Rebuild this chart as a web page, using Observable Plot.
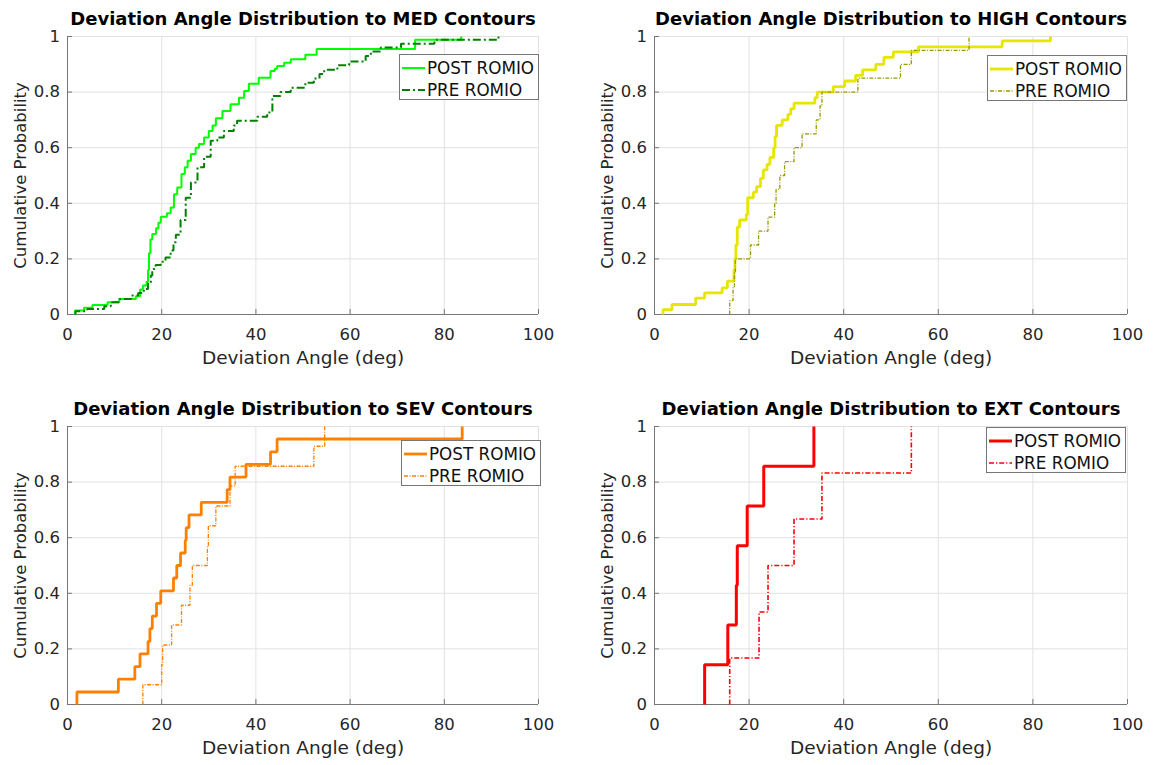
<!DOCTYPE html>
<html>
<head>
<meta charset="utf-8">
<script src="https://cdn.jsdelivr.net/npm/d3@7"></script>
<script src="https://cdn.jsdelivr.net/npm/@observablehq/plot@0.6"></script>
<style>
  html, body { margin: 0; padding: 0; background: #fff; }
  #wrap { position: relative; width: 1153px; height: 765px; background: #fff; overflow: hidden;
          font-family: "DejaVu Sans", sans-serif; }
  .panel { position: absolute; }
  .panel svg { max-width: none !important; }
  .legend { position: absolute; background: #fff; border: 1px solid #767676; box-sizing: border-box; }
  .legend .row { position: absolute; left: 0; height: 22px; display: flex; align-items: center; white-space: nowrap; }
  .legend .row svg { display: block; }
  .legend .row span { font-size: 16.8px; color: #111; margin-left: 1px; }
</style>
</head>
<body>
<div id="wrap"></div>
<script>
// ---------- data ----------
const xTicks = [0, 20, 40, 60, 80, 100];
const yTicks = [0, 0.2, 0.4, 0.6, 0.8, 1];
const contours = ["MED", "HIGH", "SEV", "EXT"];
const seriesNames = ["POST ROMIO", "PRE ROMIO"];
const xLabel = "Deviation Angle (deg)";
const yLabel = "Cumulative Probability";

// MED
const MED_POST_X = [1.6, 3.5, 5.3, 8.5, 11.0, 14.5, 15.4, 16.0, 16.8, 17.1, 17.3, 17.6, 18.0, 18.8, 19.3, 19.8, 21.1, 21.9, 22.6, 23.3, 24.2, 24.9, 25.5, 26.2, 27.2, 27.9, 29.0, 30.0, 30.8, 31.5, 32.9, 34.6, 36.4, 37.5, 38.5, 40.6, 43.1, 44.0, 44.5, 46.0, 47.4, 50.5, 52.9, 73.8, 83.6];
const MED_POST_Y = [0.014, 0.024, 0.034, 0.044, 0.056, 0.066, 0.09, 0.104, 0.118, 0.16, 0.22, 0.27, 0.29, 0.31, 0.33, 0.352, 0.364, 0.385, 0.433, 0.457, 0.505, 0.53, 0.553, 0.577, 0.60, 0.613, 0.637, 0.66, 0.68, 0.706, 0.732, 0.756, 0.78, 0.804, 0.83, 0.852, 0.876, 0.884, 0.894, 0.906, 0.918, 0.934, 0.955, 0.988, 1];
const MED_PRE_X = [1.7, 4.2, 7.8, 9.2, 11.0, 13.5, 15.0, 16.2, 17.1, 17.7, 18.0, 18.7, 19.8, 20.8, 21.9, 22.5, 23.0, 24.0, 25.1, 26.2, 27.6, 29.0, 30.4, 31.8, 33.2, 35.3, 36.0, 40.3, 42.4, 43.5, 45.2, 47.4, 50.5, 52.3, 53.5, 54.5, 57.3, 59.8, 63.3, 64.4, 66.5, 70.8, 77.9, 91.5];
const MED_PRE_Y = [0.012, 0.02, 0.03, 0.044, 0.056, 0.068, 0.077, 0.092, 0.113, 0.14, 0.164, 0.178, 0.19, 0.205, 0.23, 0.26, 0.287, 0.34, 0.42, 0.475, 0.53, 0.567, 0.625, 0.637, 0.66, 0.68, 0.697, 0.711, 0.727, 0.786, 0.80, 0.816, 0.834, 0.849, 0.865, 0.88, 0.897, 0.91, 0.93, 0.946, 0.96, 0.974, 0.988, 1];

// HIGH
const HIGH_POST_X = [1.8, 3.7, 8.7, 10.6, 14.3, 15.4, 16.8, 17.0, 17.2, 17.5, 18.0, 19.4, 19.7, 20.9, 21.6, 22.4, 23.0, 23.8, 24.4, 25.2, 25.5, 25.8, 27.0, 28.2, 28.8, 29.5, 33.9, 34.4, 37.8, 40.2, 42.5, 44.0, 46.8, 48.5, 50.5, 55.8, 73.5, 83.7];
const HIGH_POST_Y = [0.017, 0.036, 0.059, 0.078, 0.096, 0.12, 0.16, 0.20, 0.25, 0.314, 0.34, 0.36, 0.42, 0.44, 0.46, 0.49, 0.52, 0.54, 0.565, 0.60, 0.64, 0.68, 0.70, 0.72, 0.74, 0.76, 0.78, 0.80, 0.82, 0.84, 0.86, 0.88, 0.90, 0.925, 0.945, 0.963, 0.984, 1];
const HIGH_PRE_X = [15.9, 16.6, 16.9, 17.1, 20.3, 22.0, 24.0, 25.4, 25.7, 26.5, 27.5, 29.5, 31.2, 34.2, 35.0, 35.4, 43.0, 52.0, 54.3, 66.5];
const HIGH_PRE_Y = [0.05, 0.10, 0.15, 0.20, 0.25, 0.30, 0.35, 0.40, 0.45, 0.50, 0.55, 0.60, 0.65, 0.70, 0.75, 0.80, 0.85, 0.90, 0.95, 1];

// SEV
const SEV_POST_X = [2.0, 10.8, 14.3, 15.4, 17.1, 17.5, 18.0, 18.9, 19.8, 22.5, 23.2, 24.0, 25.0, 25.2, 25.8, 28.4, 33.9, 34.5, 37.9, 43.1, 44.5, 83.8];
const SEV_POST_Y = [0.045, 0.091, 0.136, 0.182, 0.227, 0.273, 0.318, 0.364, 0.409, 0.455, 0.5, 0.545, 0.591, 0.636, 0.682, 0.727, 0.773, 0.818, 0.864, 0.909, 0.955, 1];
const SEV_PRE_X = [16.0, 20.0, 20.2, 22.1, 24.2, 26.0, 26.5, 29.7, 29.9, 31.5, 34.5, 35.6, 52.3, 54.6];
const SEV_PRE_Y = [0.071, 0.143, 0.214, 0.286, 0.357, 0.429, 0.5, 0.571, 0.643, 0.714, 0.786, 0.857, 0.929, 1];

// EXT
const EXT_POST_X = [10.6, 15.5, 17.3, 17.5, 19.6, 23.1, 33.7];
const EXT_POST_Y = [0.143, 0.286, 0.429, 0.571, 0.714, 0.857, 1];
const EXT_PRE_X = [15.9, 22.1, 24.0, 29.5, 35.4, 54.3];
const EXT_PRE_Y = [0.167, 0.333, 0.5, 0.667, 0.833, 1];

// ---------- layout / style ----------
const panels = [
  {key: contours[0], left: 0, top: 0, mr: 38,
   post: {x: MED_POST_X, y: MED_POST_Y, color: "#00ff00", w: 2, dash: null},
   pre: {x: MED_PRE_X, y: MED_PRE_Y, color: "#008000", w: 2, dash: "8,3,2,3"},
   legend: {left: 399, top: 54}},
  {key: contours[1], left: 587, top: 0, mr: 36,
   post: {x: HIGH_POST_X, y: HIGH_POST_Y, color: "#e6e600", w: 2.8, dash: null},
   pre: {x: HIGH_PRE_X, y: HIGH_PRE_Y, color: "#999900", w: 1.3, dash: "4,1.5,1,1.5"},
   legend: {left: 987, top: 55}},
  {key: contours[2], left: 0, top: 390, mr: 38,
   post: {x: SEV_POST_X, y: SEV_POST_Y, color: "#ff8000", w: 2.8, dash: null},
   pre: {x: SEV_PRE_X, y: SEV_PRE_Y, color: "#ff8000", w: 1.3, dash: "4,1.5,1,1.5"},
   legend: {left: 401, top: 440}},
  {key: contours[3], left: 587, top: 390, mr: 36,
   post: {x: EXT_POST_X, y: EXT_POST_Y, color: "#ff0000", w: 3, dash: null},
   pre: {x: EXT_PRE_X, y: EXT_PRE_Y, color: "#ff0000", w: 1.6, dash: "5,2,1.2,2"},
   legend: {left: 986, top: 427}}
];

function toSteps(xs, ys) {
  return [{x: xs[0], y: 0}, ...xs.map((x, i) => ({x, y: ys[i]}))];
}

const wrap = document.getElementById("wrap");
const W = 576, H = 385, MT = 36, MB = 71, ML = 67;
const FONT = '"DejaVu Sans", sans-serif';

panels.forEach(p => {
  const plotW = W - ML - p.mr, plotH = H - MT - MB;
  const title = `Deviation Angle Distribution to ${p.key} Contours`;
  const chart = Plot.plot({
    width: W, height: H,
    marginTop: MT, marginBottom: MB, marginLeft: ML, marginRight: p.mr,
    style: {fontFamily: FONT, fontSize: "16.5px", color: "#262626", background: "transparent", overflow: "visible", maxWidth: "none"},
    x: {domain: [0, 100]},
    y: {domain: [0, 1]},
    marks: [
      Plot.gridX(xTicks, {stroke: "#e2e2e2", strokeOpacity: 1}),
      Plot.gridY(yTicks, {stroke: "#e2e2e2", strokeOpacity: 1}),
      Plot.ruleX([0], {stroke: "#767676"}),
      Plot.ruleY([0], {stroke: "#767676"}),
      Plot.tickX(xTicks, {x: d => d, stroke: "#767676", insetTop: plotH - 5}),
      Plot.tickY(yTicks, {y: d => d, stroke: "#767676", insetRight: plotW - 5}),
      Plot.axisX(xTicks, {tickSize: 0, tickPadding: 14, label: null, tickFormat: d => String(d)}),
      Plot.axisY(yTicks, {tickSize: 0, tickPadding: 7.5, label: null, tickFormat: d => String(d)}),
      Plot.line(toSteps(p.post.x, p.post.y), {x: "x", y: "y", curve: "step-after",
        stroke: p.post.color, strokeWidth: p.post.w, strokeLinejoin: "miter", strokeLinecap: "butt"}),
      Plot.line(toSteps(p.pre.x, p.pre.y), {x: "x", y: "y", curve: "step-after",
        stroke: p.pre.color, strokeWidth: p.pre.w, strokeDasharray: p.pre.dash, strokeLinejoin: "miter", strokeLinecap: "butt"}),
      Plot.text([title], {text: d => d, frameAnchor: "top", lineAnchor: "middle", textAnchor: "middle", dy: -17, fontSize: 18, fontWeight: "bold", fill: "#000"}),
      Plot.text([xLabel], {text: d => d, frameAnchor: "bottom", lineAnchor: "middle", textAnchor: "middle", dy: 44, fontSize: 18.5, fill: "#262626"}),
      Plot.text([yLabel], {text: d => d, frameAnchor: "left", lineAnchor: "middle", textAnchor: "middle", rotate: -90, dx: -47, fontSize: 16.5, fill: "#262626"})
    ]
  });
  const div = document.createElement("div");
  div.className = "panel";
  div.style.left = p.left + "px";
  div.style.top = p.top + "px";
  div.style.width = W + "px";
  div.style.height = H + "px";
  div.appendChild(chart);
  wrap.appendChild(div);

  // legend
  const lg = document.createElement("div");
  lg.className = "legend";
  lg.style.left = p.legend.left + "px";
  lg.style.top = p.legend.top + "px";
  lg.style.width = "140px";
  lg.style.height = "46px";
  [p.post, p.pre].forEach((s, i) => {
    const row = document.createElement("div");
    row.className = "row";
    row.style.top = (i === 0 ? 1.5 : 24) + "px";
    const svg = d3.create("svg").attr("width", 26).attr("height", 22);
    svg.append("line").attr("x1", 2).attr("x2", 25).attr("y1", 11).attr("y2", 11)
      .attr("stroke", s.color).attr("stroke-width", s.w)
      .attr("stroke-dasharray", s.dash || null);
    row.appendChild(svg.node());
    const sp = document.createElement("span");
    sp.textContent = seriesNames[i];
    row.appendChild(sp);
    lg.appendChild(row);
  });
  wrap.appendChild(lg);
});
</script>
</body>
</html>
